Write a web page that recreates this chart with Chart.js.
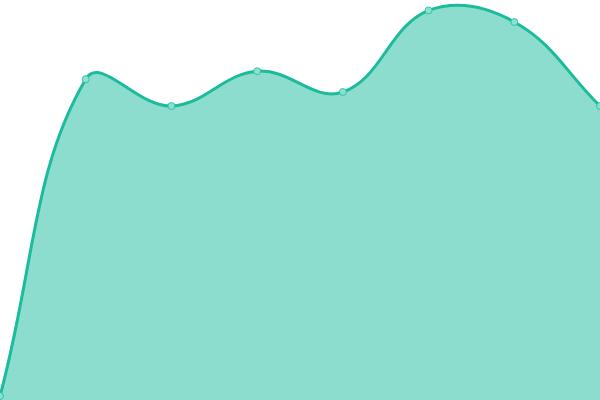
<!DOCTYPE html>
<html>
<head>
<meta charset="utf-8">
<script src="https://cdn.jsdelivr.net/npm/chart.js@4"></script>
<style>
  html, body { margin: 0; padding: 0; background: #fff; }
  #wrap { width: 600px; height: 400px; }
</style>
</head>
<body>
<div id="wrap"><canvas id="myChart"></canvas></div>
<script>
var labels = ["Jan", "Feb", "Mar", "Apr", "May", "Jun", "Jul", "Aug"];
var values = [1, 80.2, 73.5, 82.2, 77, 97.4, 94.5, 73.5];

var lineColor = "rgb(26, 188, 156)";
var fillColor = "rgba(26, 188, 156, 0.5)";

var ctx = document.getElementById("myChart").getContext("2d");
var myLineChart = new Chart(ctx, {
    type: 'line',
    data: {
        labels: labels,
        datasets: [{
            data: values,
            fill: true,
            tension: 0.4,
            borderColor: lineColor,
            borderWidth: 3,
            backgroundColor: fillColor,
            pointRadius: 3.5,
            pointBorderWidth: 1,
            pointBackgroundColor: "rgb(140, 224, 207)",
            pointBorderColor: "rgba(26, 188, 156, 0.8)",
            clip: 10
        }]
    },
    options: {
        responsive: true,
        maintainAspectRatio: false,
        animation: false,
        // no room kept for the points, chart runs edge to edge
        layout: { padding: 0, autoPadding: false },
        plugins: {
            legend: { display: false },
            tooltip: { enabled: false }
        },
        scales: {
            x: { display: false },
            y: { display: false, min: 0, max: 100 }
        }
    }
});
</script>
</body>
</html>
